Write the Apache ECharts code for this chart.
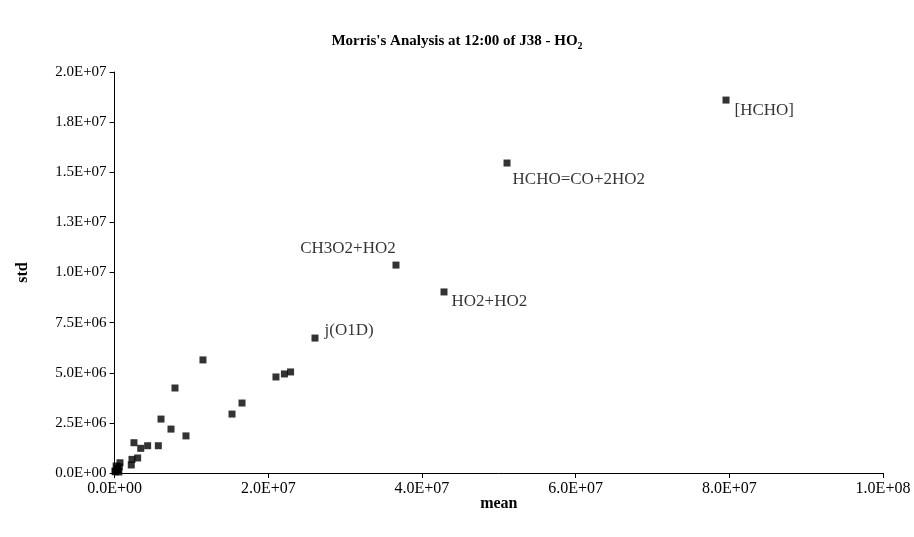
<!DOCTYPE html>
<html>
<head>
<meta charset="utf-8">
<script src="https://cdn.jsdelivr.net/npm/echarts@6/dist/echarts.min.js"></script>
<style>html,body{margin:0;padding:0;background:#fff}#c{width:914px;height:537px}</style>
</head>
<body>
<div id="c"></div>
<script>
var meanVals = [7.957e7, 5.107e7, 3.662e7, 4.287e7, 2.608e7, 1.150e7, 7.86e6, 2.10e7, 2.21e7, 2.29e7, 1.658e7, 1.528e7, 6.04e6, 7.34e6, 9.29e6, 2.52e6, 3.40e6, 4.3e6, 5.69e6, 3.00e6, 2.26e6, 2.17e6, 0.70e6, 0.61e6, 0.30e6, 0.10e6, 0.45e6, 0.20e6, 0.05e6, 0.55e6];
var stdVals  = [1.860e7, 1.546e7, 1.037e7, 9.03e6, 6.73e6, 5.64e6, 4.24e6, 4.79e6, 4.94e6, 5.04e6, 3.49e6, 2.94e6, 2.69e6, 2.19e6, 1.85e6, 1.51e6, 1.23e6, 1.36e6, 1.36e6, 0.75e6, 0.68e6, 0.40e6, 0.51e6, 0.31e6, 0.22e6, 0.06e6, 0.15e6, 0.35e6, 0.10e6, 0.05e6];
var pointNames = ['[HCHO]', 'HCHO=CO+2HO2', 'CH3O2+HO2', 'HO2+HO2', 'j(O1D)'];
var xTicks = [0, 2e7, 4e7, 6e7, 8e7, 1e8];
var yTicks = [0, 2.5e6, 5e6, 7.5e6, 1e7, 1.25e7, 1.5e7, 1.75e7, 2e7];

function fmtE(v) {
  if (v === 0) return '0.0E+00';
  var s = Number(v).toExponential(1);
  var parts = s.split('e');
  var exp = parseInt(parts[1], 10);
  var sign = exp < 0 ? '-' : '+';
  var a = Math.abs(exp);
  return parts[0] + 'E' + sign + (a < 10 ? '0' + a : '' + a);
}

var labelCfg = {
  '[HCHO]': {position: 'right', distance: 5, offset: [0, 10]},
  'HCHO=CO+2HO2': {position: 'right', distance: 2, offset: [0, 17]},
  'CH3O2+HO2': {position: 'top', distance: 5, offset: [-48, 0]},
  'HO2+HO2': {position: 'right', distance: 4, offset: [0, 10]},
  'j(O1D)': {position: 'right', distance: 6, offset: [0, -8]}
};

var data = meanVals.map(function (m, i) {
  var item = {value: [m, stdVals[i]]};
  var nm = pointNames[i];
  if (nm) {
    var c = labelCfg[nm];
    item.name = nm;
    item.label = {
      show: true, formatter: nm, position: c.position, distance: c.distance, offset: c.offset,
      color: '#000', fontFamily: 'Liberation Serif', fontSize: 17
    };
  }
  return item;
});

var chart = echarts.init(document.getElementById('c'), null, {renderer: 'canvas'});
chart.setOption({
  backgroundColor: '#fff',
  animation: false,
  title: {
    text: "{t|Morris's Analysis at 12:00 of J38 - HO}{s|2}",
    left: 'center', top: 27,
    textStyle: {
      rich: {
        t: {fontFamily: 'Liberation Serif', fontWeight: 'bold', fontSize: 15, color: '#000'},
        s: {fontFamily: 'Liberation Serif', fontWeight: 'bold', fontSize: 10, color: '#000', padding: [9, 0, 0, 0]}
      }
    }
  },
  grid: {left: 114.6, right: 31, top: 72, bottom: 64, containLabel: false},
  xAxis: {
    type: 'value', min: 0, max: 1e8, interval: 2e7,
    name: 'mean', nameLocation: 'middle', nameGap: 23, nameMoveOverlap: false,
    nameTextStyle: {fontFamily: 'Liberation Serif', fontWeight: 'bold', fontSize: 16, color: '#000'},
    axisLine: {show: true, lineStyle: {color: '#000', width: 1}},
    axisTick: {show: true, inside: false, length: 5, lineStyle: {color: '#000'}},
    axisLabel: {fontFamily: 'Liberation Serif', fontSize: 16, color: '#000', margin: 8,
      formatter: function (v) { return fmtE(v); }},
    splitLine: {show: false}
  },
  yAxis: {
    type: 'value', min: 0, max: 2e7, interval: 2.5e6,
    name: 'std', nameLocation: 'middle', nameGap: 84, nameRotate: 90, nameMoveOverlap: false,
    nameTextStyle: {fontFamily: 'Liberation Serif', fontWeight: 'bold', fontSize: 16, color: '#000'},
    axisLine: {show: true, lineStyle: {color: '#000', width: 1}},
    axisTick: {show: true, inside: false, length: 5, lineStyle: {color: '#000'}},
    axisLabel: {fontFamily: 'Liberation Serif', fontSize: 15, color: '#000', margin: 8,
      formatter: function (v) { return fmtE(v); }},
    splitLine: {show: false}
  },
  series: [{
    type: 'scatter',
    symbol: 'rect',
    symbolSize: 7,
    itemStyle: {color: '#000'},
    data: data,
    emphasis: {disabled: true}
  }]
});
</script>
</body>
</html>
